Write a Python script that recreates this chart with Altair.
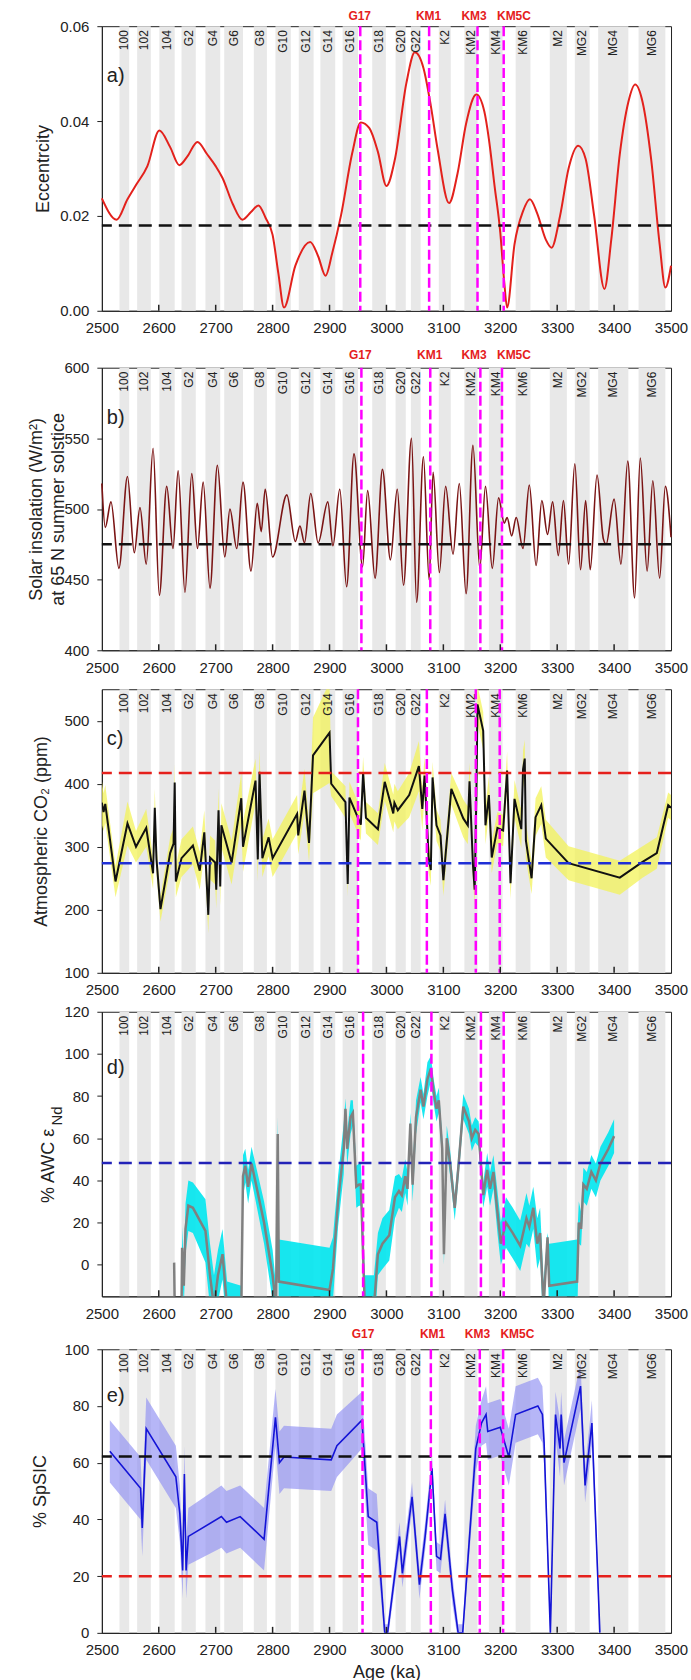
import altair as alt
import pandas as pd

FONT = "Liberation Sans"
INK = "#222222"

# ---------------- shared: marine isotope stage bands ----------------
stage_names = ["100", "102", "104", "G2", "G4", "G6", "G8", "G10", "G12", "G14", "G16",
               "G18", "G20", "G22", "K2", "KM2", "KM4", "KM6", "M2", "MG2", "MG4", "MG6"]
band_start = [2531, 2562, 2601, 2640, 2682, 2715, 2767, 2805, 2846, 2884, 2923,
              2975, 3016, 3043, 3092, 3137, 3180, 3227, 3287, 3331, 3372, 3443]
band_end = [2548, 2586, 2628, 2665, 2708, 2748, 2790, 2832, 2872, 2910, 2950,
            2999, 3034, 3060, 3113, 3160, 3204, 3253, 3317, 3357, 3425, 3490]
x_label_values = list(range(2500, 3501, 100))
x_inner_ticks = list(range(2600, 3401, 100))

event_names = ["G17", "KM1", "KM3", "KM5C"]
event_lines = {
    "a": [2954, 3075, 3160, 3206],
    "b": [2956, 3077, 3165, 3203],
    "c": [2950, 3071, 3157, 3199],
    "d": [2959, 3079, 3166, 3206],
    "e": [2958, 3078, 3164, 3205],
}
event_label_pos = {
    "a": [2953, 3074, 3154, 3224],
    "b": [2954, 3076, 3154, 3224],
    "e": [2959, 3081, 3160, 3230],
}

# ---------------- a) eccentricity ----------------
ecc_age = [2500, 2526, 2545, 2560, 2580, 2601, 2620, 2636, 2650, 2668, 2685, 2700, 2712,
           2730, 2747, 2762, 2775, 2788, 2800, 2810, 2820, 2840, 2866, 2880, 2893, 2905,
           2920, 2940, 2955, 2970, 2985, 3000, 3015, 3035, 3050, 3065, 3078, 3090, 3110,
           3125, 3140, 3158, 3172, 3180, 3190, 3200, 3207, 3212, 3225, 3240, 3252, 3265,
           3280, 3290, 3305, 3320, 3337, 3350, 3365, 3383, 3395, 3410, 3425, 3437, 3450,
           3465, 3480, 3490, 3500]
ecc_val = [0.0237, 0.0192, 0.0235, 0.0265, 0.0305, 0.0380, 0.0345, 0.0307, 0.0325, 0.0356,
           0.0330, 0.0305, 0.0280, 0.0225, 0.0192, 0.0208, 0.0222, 0.0195, 0.0160, 0.0080,
           0.0007, 0.0095, 0.0145, 0.0115, 0.0074, 0.0123, 0.0200, 0.0333, 0.0397, 0.0385,
           0.0335, 0.0263, 0.0320, 0.0480, 0.0545, 0.0512, 0.0432, 0.0340, 0.0227, 0.0290,
           0.0395, 0.0456, 0.0420, 0.0362, 0.0263, 0.0165, 0.0060, 0.0007, 0.0140, 0.0210,
           0.0235, 0.0205, 0.0150, 0.0133, 0.0200, 0.0300, 0.0348, 0.0320, 0.0200, 0.0046,
           0.0150, 0.0330, 0.0440, 0.0477, 0.0440, 0.0320, 0.0140, 0.0049, 0.0095]
ecc_ref = [0.018]

# ---------------- b) insolation ----------------
ins_age = [2500, 2506, 2516, 2530, 2545, 2557, 2567, 2578, 2590, 2601, 2614, 2625, 2634,
           2646, 2658, 2668, 2678, 2690, 2703, 2716, 2725, 2737, 2748, 2762, 2773, 2780,
           2787, 2800, 2825, 2840, 2848, 2856, 2867, 2880, 2897, 2906, 2918, 2930, 2943,
           2958, 2967, 2980, 2993, 3007, 3019, 3030, 3044, 3053, 3065, 3075, 3082, 3093,
           3104, 3117, 3128, 3140, 3152, 3164, 3174, 3186, 3197, 3207, 3212, 3220, 3228,
           3240, 3251, 3263, 3273, 3283, 3292, 3302, 3311, 3320, 3331, 3341, 3350, 3358,
           3370, 3381, 3386, 3400, 3412, 3424, 3436, 3446, 3458, 3468, 3480, 3490, 3500]
ins_val = [518, 487, 505, 458, 523, 469, 501, 461, 543, 439, 516, 472, 527, 441, 525, 472,
           519, 444, 531, 466, 500, 472, 519, 456, 504, 484, 514, 466, 510, 477, 488, 476,
           511, 476, 505, 474, 514, 445, 539, 459, 513, 451, 528, 464, 514, 446, 550, 434,
           537, 450, 526, 455, 516, 468, 518, 440, 545, 458, 516, 458, 508, 490, 494, 481,
           494, 472, 517, 460, 506, 482, 505, 467, 506, 461, 532, 457, 506, 457, 524, 479,
           475, 507, 461, 534, 437, 536, 456, 520, 451, 516, 480]
ins_ref = [475]

# ---------------- c) CO2 ----------------
co2_age = [2500, 2503, 2506, 2524, 2545, 2560, 2578, 2590, 2593, 2596, 2603, 2620, 2626,
           2628, 2630, 2640, 2660, 2672, 2680, 2687, 2690, 2699, 2701, 2705, 2708, 2710,
           2728, 2745, 2748, 2770, 2774, 2777, 2782, 2793, 2800, 2843, 2845, 2856, 2864,
           2871, 2900, 2903, 2928, 2932, 2935, 2955, 2959, 2964, 2985, 2997, 3012, 3014,
           3020, 3040, 3057, 3063, 3067, 3071, 3074, 3078, 3081, 3088, 3095, 3100, 3114,
           3135, 3143, 3146, 3152, 3155, 3158, 3160, 3170, 3174, 3180, 3185, 3195, 3205,
           3212, 3218, 3225, 3237, 3240, 3243, 3245, 3255, 3262, 3272, 3280, 3320, 3410,
           3450, 3475, 3495, 3500]
co2_val = [370, 355, 368, 245, 337, 300, 330, 258, 362, 280, 201, 290, 305, 402, 245, 282,
           302, 262, 323, 192, 283, 275, 232, 358, 237, 334, 275, 377, 300, 405, 280, 419,
           282, 315, 282, 352, 318, 389, 306, 445, 481, 400, 371, 241, 378, 335, 418, 346,
           328, 403, 353, 370, 358, 382, 428, 360, 413, 344, 284, 263, 410, 334, 318, 247,
           392, 345, 334, 404, 271, 232, 381, 526, 484, 334, 382, 283, 330, 326, 421, 242,
           376, 328, 423, 440, 310, 250, 347, 366, 313, 274, 251, 276, 290, 366, 362]
co2_err = [35, 30, 30, 25, 35, 25, 30, 25, 30, 25, 20, 25, 25, 30, 25, 30, 30, 30, 35, 30,
           35, 35, 30, 35, 30, 35, 35, 40, 40, 35, 35, 35, 30, 30, 30, 30, 30, 35, 30, 60,
           80, 20, 25, 20, 25, 25, 25, 25, 25, 30, 30, 30, 30, 35, 40, 35, 30, 30, 25, 25,
           25, 25, 25, 25, 25, 30, 30, 30, 25, 25, 30, 30, 30, 30, 30, 25, 25, 25, 30, 25,
           30, 30, 30, 30, 30, 25, 30, 30, 30, 27, 27, 25, 25, 20, 20]
co2_ref_red = [417]
co2_ref_blue = [274]

# ---------------- d) % AWC eNd ----------------
awc_age = [2627, 2628, 2640, 2641, 2644, 2647, 2652, 2660, 2682, 2690, 2697, 2704, 2712,
           2720, 2745, 2748, 2752, 2757, 2763, 2785, 2800, 2806, 2809, 2811, 2900, 2906,
           2915, 2925, 2928, 2931, 2937, 2941, 2947, 2952, 2955, 2962, 2978, 2985, 2993,
           3005, 3015, 3022, 3027, 3033, 3037, 3042, 3046, 3052, 3060, 3065, 3072, 3078,
           3083, 3088, 3092, 3098, 3101, 3106, 3112, 3120, 3126, 3135, 3145, 3150, 3156,
           3162, 3170, 3177, 3182, 3188, 3195, 3201, 3210, 3222, 3235, 3241, 3246, 3251,
           3258, 3265, 3270, 3276, 3283, 3286, 3335, 3338, 3342, 3346, 3352, 3360, 3368,
           3376, 3390, 3400]
awc_val = [1, -20, -20, 8, -10, 17, 28, 27, 16, -5, -20, -5, 5, -20, -20, 42, 47, 37, 48,
           20, -5, -20, 62, -8, -12, -2, 30, 55, 74, 55, 70, 72, 37, 38, 38, -20, -20, 5,
           10, 14, 32, 35, 33, 42, 36, 67, 38, 70, 83, 75, 88, 93, 82, 74, 78, 55, 5, 60,
           48, 27, 45, 75, 68, 60, 64, 62, 33, 45, 36, 44, 25, 10, 20, 15, 9, 16, 22, 18,
           27, 10, 15, -20, 13, -10, -8, 20, 17, 38, 36, 44, 40, 48, 55, 61]
awc_err = [0, 0, 5, 10, 10, 12, 12, 12, 15, 15, 15, 12, 12, 12, 10, 10, 8, 8, 8, 10, 12,
           10, 8, 20, 20, 15, 12, 12, 5, 8, 8, 6, 10, 10, 10, 15, 15, 10, 12, 12, 10, 8,
           8, 8, 8, 5, 8, 8, 6, 6, 8, 6, 6, 6, 6, 6, 5, 6, 6, 6, 6, 6, 6, 6, 6, 6, 6, 8,
           8, 8, 10, 10, 12, 12, 12, 12, 12, 10, 10, 12, 12, 12, 2, 20, 20, 10, 8, 8, 8,
           8, 8, 8, 8, 8]
awc_ref = [48.3]

# ---------------- e) % SpSIC ----------------
sic_age = [2514, 2568, 2571, 2578, 2630, 2637, 2642, 2645, 2648, 2652, 2710, 2719, 2743,
           2785, 2805, 2812, 2820, 2903, 2913, 2957, 2968, 2983, 2997, 3002, 3023, 3028,
           3045, 3058, 3068, 3080, 3088, 3095, 3103, 3116, 3126, 3134, 3157, 3167, 3175,
           3178, 3200, 3215, 3227, 3266, 3274, 3277, 3288, 3297, 3305, 3307, 3312, 3341,
           3349, 3361, 3375]
sic_val = [64, 51, 37, 72, 55, 42, 22, 56, 22, 34, 41, 39, 41, 33, 76, 60, 62, 61, 66, 75,
           41, 39, 0, 0, 34, 21, 48, 17, 34, 58, 27, 26, 42, 15, 0, 0, 65, 74, 77, 71, 72.5,
           62, 77, 80, 77, 67, 0, 77, 65, 77, 60, 87, 52, 74, 0]
sic_err = [11, 11, 10, 11, 11, 10, 10, 10, 10, 10, 11, 11, 11, 11, 10, 11, 11, 11, 11, 10,
           10, 10, 3, 3, 5, 5, 5, 5, 5, 5, 5, 5, 5, 5, 3, 3, 8, 8, 10, 10, 10, 10, 10, 10,
           10, 8, 3, 8, 10, 8, 8, 8, 6, 8, 3]
sic_ref_black = [62.2]
sic_ref_red = [20]

# ---------------- helpers ----------------
W = 570
XS = alt.Scale(domain=[2500, 3500], nice=False, zero=False)


def x_axis(with_title):
    kw = dict(values=x_label_values, format="d", labelFontSize=15, labelColor=INK,
              labelFont=FONT, ticks=False, tickSize=0, labelPadding=10, labelFlush=False,
              labelOverlap=False, grid=False, domainColor=INK, domainWidth=1)
    if with_title:
        kw.update(title="Age (ka)", titleFontSize=18, titleFontWeight="normal",
                  titleColor=INK, titleFont=FONT, titlePadding=6)
    else:
        kw.update(title=None)
    return alt.Axis(**kw)


def make_panel(key, H, ydomain, yvalues, yfmt, ytitle, titleX, series_layers,
               ref_lines, letter, letter_y, space_top, space_bottom, label_dy=None,
               extra=None, title_kw=None):
    xa = x_axis(key == "e")
    YS = alt.Scale(domain=ydomain, nice=False, zero=False)
    ykw = dict(values=yvalues, format=yfmt, labelFontSize=15, labelColor=INK,
               labelFont=FONT, tickSize=5, tickColor=INK, labelPadding=8, grid=False,
               domainColor=INK, title=ytitle, titleFontSize=18,
               titleFontWeight="normal", titleColor=INK, titleFont=FONT,
               titleAngle=270, titleX=titleX, titleBaseline="middle", titleLineHeight=22)
    if title_kw:
        ykw.update(title_kw)
    ya = alt.Axis(**ykw)

    def X(field):
        return alt.X(field, type="quantitative", scale=XS, axis=xa)

    def Y(field):
        return alt.Y(field, type="quantitative", scale=YS, axis=ya)

    bands_df = pd.DataFrame({"stage": stage_names, "start": band_start, "end": band_end})
    bands_df["mid"] = (bands_df["start"] + bands_df["end"]) / 2

    layers = []
    # near-invisible spacer that fixes the vertical extent of the panel (layout helper)
    layers.append(alt.Chart(pd.DataFrame({"k": [0]})).mark_rule(
        color="white", strokeWidth=0.01).encode(
        x=alt.value(-96), y=alt.value(-space_top), y2=alt.value(H + space_bottom)))
    layers.append(alt.Chart(bands_df).mark_rect(color="#e8e8e8").encode(
        x=X("start"), x2="end", y=alt.value(0), y2=alt.value(H)))
    for lay in series_layers(X, Y):
        layers.append(lay)
    layers.append(alt.Chart(bands_df).mark_text(
        angle=270, align="right", baseline="middle", fontSize=12, color=INK, font=FONT
    ).encode(x=X("mid"), y=alt.value(4), text="stage:N"))
    for val, color in ref_lines:
        layers.append(alt.Chart(pd.DataFrame({"v": val})).mark_rule(
            color=color, strokeWidth=2.5, strokeDash=[13, 7]).encode(y=Y("v")))
    ev_df = pd.DataFrame({"name": event_names, "age": event_lines[key]})
    layers.append(alt.Chart(ev_df).mark_rule(
        color="#ff00ff", strokeWidth=2.5, strokeDash=[10, 4]).encode(x=X("age")))
    tk_df = pd.DataFrame({"t": x_inner_ticks})
    layers.append(alt.Chart(tk_df).mark_rule(color=INK, strokeWidth=1.5).encode(
        x=X("t"), y=alt.value(H), y2=alt.value(H - 6)))
    if label_dy is not None:
        lab_df = pd.DataFrame({"name": event_names, "age": event_label_pos[key]})
        layers.append(alt.Chart(lab_df).mark_text(
            color="#e5201c", fontWeight="bold", fontSize=12, font=FONT,
            align="center", baseline="middle").encode(
            x=X("age"), y=alt.value(label_dy), text="name:N"))
    layers.append(alt.Chart(pd.DataFrame({"t": [letter]})).mark_text(
        align="left", baseline="middle", fontSize=20, color=INK, font=FONT).encode(
        x=alt.value(5), y=alt.value(letter_y), text="t:N"))
    if extra is not None:
        layers.extend(extra)
    return alt.layer(*layers).properties(width=W, height=H)


# panel a
def series_a(X, Y):
    df = pd.DataFrame({"age": ecc_age, "v": ecc_val})
    return [alt.Chart(df).mark_line(color="#e3211c", strokeWidth=2, interpolate="monotone")
            .encode(x=X("age"), y=Y("v"))]


pa = make_panel("a", 285, [0, 0.06], [0, 0.02, 0.04, 0.06], ".2f", "Eccentrcity", -58,
                series_a, [(ecc_ref, "#111111")], "a)", 50, 20, 27.5, label_dy=-10)


# panel b
def series_b(X, Y):
    df = pd.DataFrame({"age": ins_age, "v": ins_val})
    return [alt.Chart(df).mark_line(color="#7b1515", strokeWidth=1.6, interpolate="monotone")
            .encode(x=X("age"), y=Y("v"))]


pb = make_panel("b", 283, [400, 600], [400, 450, 500, 550, 600], "d",
                ["Solar insolation (W/m²)", "at 65 N summer solstice"], -65,
                series_b, [(ins_ref, "#111111")], "b)", 50, 27, 27.5, label_dy=-13)


def band_series(ages, vals, errs, band_color, band_opacity, line_color, line_width):
    def build(X, Y):
        df = pd.DataFrame({"age": ages, "v": vals, "err": errs})
        df["lo"] = df["v"] - df["err"]
        df["hi"] = df["v"] + df["err"]
        return [
            alt.Chart(df).mark_area(color=band_color, opacity=band_opacity, clip=True)
            .encode(x=X("age"), y=Y("lo"), y2="hi"),
            alt.Chart(df).mark_line(color=line_color, strokeWidth=line_width, clip=True)
            .encode(x=X("age"), y=Y("v")),
        ]
    return build


pc = make_panel("c", 284, [100, 550], [100, 200, 300, 400, 500], "d",
                "Atmospheric CO₂ (ppm)", -60,
                band_series(co2_age, co2_val, co2_err, "#f3f35a", 0.75, "#111111", 2),
                [(co2_ref_red, "#e5201c"), (co2_ref_blue, "#1f2fd6")], "c)", 50, 9, 27.5)

sub_df = pd.DataFrame({"t": ["Nd"]})
nd_sub = alt.Chart(sub_df).mark_text(
    angle=270, align="left", baseline="middle", fontSize=15, color=INK, font=FONT
).encode(x=alt.value(-45), y=alt.value(114), text="t:N")

pd_ = make_panel("d", 285, [-15, 120], [0, 20, 40, 60, 80, 100, 120], "d",
                 "% AWC ε", -53,
                 band_series(awc_age, awc_val, awc_err, "#00e5ee", 0.9, "#808080", 2.5),
                 [(awc_ref, "#2323b8")], "d)", 56, 9, 27.5,
                 extra=[nd_sub], title_kw=dict(titleAlign="left", titleY=191))

pe = make_panel("e", 284, [0, 100], [0, 20, 40, 60, 80, 100], "d", "% SpSIC", -61,
                band_series(sic_age, sic_val, sic_err, "#8f8ff2", 0.65, "#1414d6", 1.6),
                [(sic_ref_black, "#111111"), (sic_ref_red, "#e5201c")], "e)", 47, 23, 50,
                label_dy=-15)

chart = alt.vconcat(pa, pb, pc, pd_, pe, spacing=0).properties(
    padding={"left": 5, "top": 4, "right": 2, "bottom": 2}
).configure(font=FONT).configure_view(stroke=INK, strokeWidth=1)

chart.save("out.html", embed_options={"renderer": "svg", "actions": False})
